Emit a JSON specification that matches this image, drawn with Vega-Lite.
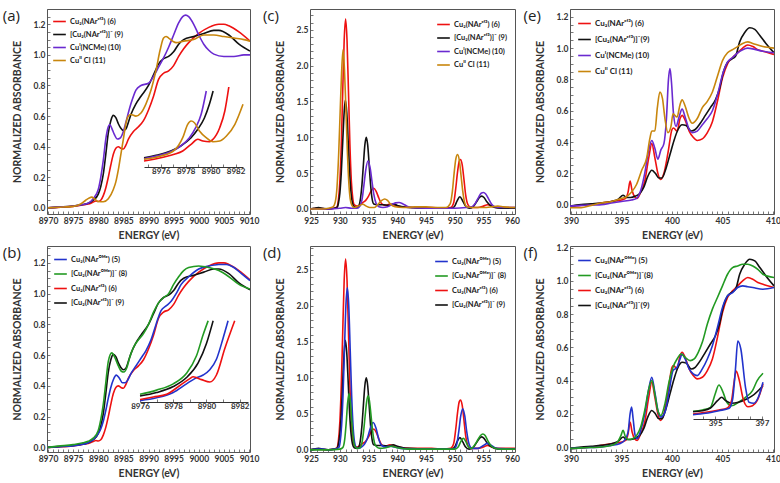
{
"$schema": "https://vega.github.io/schema/vega-lite/v6.json",
"padding": {"left": 2, "top": 4, "right": 0, "bottom": 0},
"background": "white",
"config": {
 "view": {"stroke": "#555", "strokeWidth": 1},
 "axis": {"labelFont": "Lato", "labelFontWeight": "bold", "labelFontSize": 8.5, "labelColor": "#333", "titleFont": "Lato", "titleFontWeight": "bold", "titleFontSize": 10.5, "titleColor": "#333", "tickColor": "#555", "tickSize": -3, "tickWidth": 0.8, "domain": false, "grid": false, "labelFlush": false, "labelOverlap": false, "labelPadding": 5},
 "axisX": {"titlePadding": 6},
 "axisY": {"titlePadding": 11},
 "legend": {"symbolType": "stroke", "symbolStrokeWidth": 2, "symbolSize": 160, "labelFont": "Lato", "labelFontWeight": "bold", "labelFontSize": 7.5, "labelColor": "#222", "rowPadding": 2.5, "padding": 0, "offset": 5, "labelOffset": 3},
 "text": {"align": "left", "baseline": "top", "font": "Open Sans", "fontSize": 15, "color": "#222"},
 "line": {"interpolate": "monotone", "strokeWidth": 1.6}
},
"datasets": {
"K": [
{"s":"6","x":8970,"y":0},{"s":"6","x":8972,"y":0.003},{"s":"6","x":8975,"y":0.01},{"s":"6","x":8977,"y":0.02},{"s":"6","x":8978,"y":0.025},{"s":"6","x":8979,"y":0.038},{"s":"6","x":8979.5,"y":0.045},{"s":"6","x":8980,"y":0.042},{"s":"6","x":8980.5,"y":0.05},{"s":"6","x":8981,"y":0.08},{"s":"6","x":8981.5,"y":0.13},{"s":"6","x":8982,"y":0.2},{"s":"6","x":8982.5,"y":0.28},{"s":"6","x":8983,"y":0.35},{"s":"6","x":8983.5,"y":0.39},{"s":"6","x":8984,"y":0.4},{"s":"6","x":8984.5,"y":0.39},{"s":"6","x":8985,"y":0.385},{"s":"6","x":8985.5,"y":0.41},{"s":"6","x":8986,"y":0.45},{"s":"6","x":8987,"y":0.5},{"s":"6","x":8988,"y":0.53},{"s":"6","x":8989,"y":0.57},{"s":"6","x":8990,"y":0.64},{"s":"6","x":8991,"y":0.73},{"s":"6","x":8992,"y":0.84},{"s":"6","x":8993,"y":0.88},{"s":"6","x":8994,"y":0.895},{"s":"6","x":8995,"y":0.93},{"s":"6","x":8996,"y":0.99},{"s":"6","x":8997,"y":1.04},{"s":"6","x":8998,"y":1.08},{"s":"6","x":9000,"y":1.14},{"s":"6","x":9002,"y":1.18},{"s":"6","x":9004,"y":1.2},{"s":"6","x":9005,"y":1.2},{"s":"6","x":9006,"y":1.19},{"s":"6","x":9008,"y":1.15},{"s":"6","x":9010.2,"y":1.09},
{"s":"9","x":8970,"y":0},{"s":"9","x":8972,"y":0.005},{"s":"9","x":8975,"y":0.012},{"s":"9","x":8977,"y":0.022},{"s":"9","x":8978,"y":0.03},{"s":"9","x":8979,"y":0.05},{"s":"9","x":8980,"y":0.09},{"s":"9","x":8980.5,"y":0.14},{"s":"9","x":8981,"y":0.22},{"s":"9","x":8981.5,"y":0.35},{"s":"9","x":8982,"y":0.49},{"s":"9","x":8982.5,"y":0.57},{"s":"9","x":8983,"y":0.605},{"s":"9","x":8983.5,"y":0.59},{"s":"9","x":8984,"y":0.55},{"s":"9","x":8984.5,"y":0.52},{"s":"9","x":8985,"y":0.505},{"s":"9","x":8985.5,"y":0.515},{"s":"9","x":8986,"y":0.56},{"s":"9","x":8986.5,"y":0.61},{"s":"9","x":8987.5,"y":0.68},{"s":"9","x":8988.5,"y":0.73},{"s":"9","x":8990,"y":0.8},{"s":"9","x":8991,"y":0.87},{"s":"9","x":8992,"y":0.94},{"s":"9","x":8993,"y":0.975},{"s":"9","x":8994,"y":0.99},{"s":"9","x":8995,"y":1.02},{"s":"9","x":8996,"y":1.07},{"s":"9","x":8997,"y":1.1},{"s":"9","x":8999,"y":1.12},{"s":"9","x":9001,"y":1.14},{"s":"9","x":9003,"y":1.16},{"s":"9","x":9004,"y":1.16},{"s":"9","x":9006,"y":1.13},{"s":"9","x":9008,"y":1.07},{"s":"9","x":9010.2,"y":1.025},
{"s":"10","x":8970,"y":0},{"s":"10","x":8972,"y":0.005},{"s":"10","x":8975,"y":0.012},{"s":"10","x":8977,"y":0.022},{"s":"10","x":8978,"y":0.03},{"s":"10","x":8979,"y":0.06},{"s":"10","x":8980,"y":0.12},{"s":"10","x":8980.5,"y":0.2},{"s":"10","x":8981,"y":0.31},{"s":"10","x":8981.5,"y":0.45},{"s":"10","x":8982,"y":0.53},{"s":"10","x":8982.3,"y":0.545},{"s":"10","x":8982.7,"y":0.52},{"s":"10","x":8983.2,"y":0.48},{"s":"10","x":8983.8,"y":0.45},{"s":"10","x":8984.3,"y":0.455},{"s":"10","x":8985,"y":0.5},{"s":"10","x":8985.5,"y":0.56},{"s":"10","x":8986.5,"y":0.68},{"s":"10","x":8987.5,"y":0.77},{"s":"10","x":8988.5,"y":0.8},{"s":"10","x":8990,"y":0.815},{"s":"10","x":8991,"y":0.86},{"s":"10","x":8992,"y":0.92},{"s":"10","x":8993,"y":0.98},{"s":"10","x":8994,"y":1.05},{"s":"10","x":8995,"y":1.13},{"s":"10","x":8996,"y":1.21},{"s":"10","x":8996.8,"y":1.25},{"s":"10","x":8997.4,"y":1.26},{"s":"10","x":8998,"y":1.25},{"s":"10","x":8999,"y":1.2},{"s":"10","x":9000,"y":1.13},{"s":"10","x":9001,"y":1.07},{"s":"10","x":9002,"y":1.03},{"s":"10","x":9003,"y":1.005},{"s":"10","x":9005,"y":0.99},{"s":"10","x":9007,"y":0.99},{"s":"10","x":9009,"y":1.0},{"s":"10","x":9010.2,"y":1.0},
{"s":"11","x":8970,"y":0},{"s":"11","x":8972,"y":0.004},{"s":"11","x":8975,"y":0.01},{"s":"11","x":8976.5,"y":0.025},{"s":"11","x":8977.5,"y":0.05},{"s":"11","x":8978.2,"y":0.065},{"s":"11","x":8978.7,"y":0.07},{"s":"11","x":8979.3,"y":0.058},{"s":"11","x":8980,"y":0.042},{"s":"11","x":8981,"y":0.04},{"s":"11","x":8982,"y":0.06},{"s":"11","x":8983,"y":0.12},{"s":"11","x":8983.5,"y":0.17},{"s":"11","x":8984,"y":0.25},{"s":"11","x":8984.5,"y":0.35},{"s":"11","x":8985,"y":0.45},{"s":"11","x":8985.5,"y":0.55},{"s":"11","x":8986,"y":0.6},{"s":"11","x":8986.5,"y":0.61},{"s":"11","x":8987.5,"y":0.6},{"s":"11","x":8988.5,"y":0.62},{"s":"11","x":8989.5,"y":0.68},{"s":"11","x":8990.5,"y":0.77},{"s":"11","x":8991.5,"y":0.9},{"s":"11","x":8992.3,"y":1.03},{"s":"11","x":8993,"y":1.11},{"s":"11","x":8993.5,"y":1.12},{"s":"11","x":8994,"y":1.11},{"s":"11","x":8994.8,"y":1.09},{"s":"11","x":8995.5,"y":1.08},{"s":"11","x":8997,"y":1.09},{"s":"11","x":8999,"y":1.1},{"s":"11","x":9001,"y":1.13},{"s":"11","x":9003,"y":1.13},{"s":"11","x":9005,"y":1.12},{"s":"11","x":9007,"y":1.11},{"s":"11","x":9009,"y":1.1},{"s":"11","x":9010.2,"y":1.09},
{"s":"5","x":8970,"y":0},{"s":"5","x":8972,"y":0.004},{"s":"5","x":8975,"y":0.01},{"s":"5","x":8977,"y":0.02},{"s":"5","x":8978,"y":0.03},{"s":"5","x":8979,"y":0.05},{"s":"5","x":8980,"y":0.09},{"s":"5","x":8980.5,"y":0.12},{"s":"5","x":8981,"y":0.17},{"s":"5","x":8981.5,"y":0.24},{"s":"5","x":8982,"y":0.32},{"s":"5","x":8982.5,"y":0.39},{"s":"5","x":8983,"y":0.44},{"s":"5","x":8983.6,"y":0.47},{"s":"5","x":8984.2,"y":0.45},{"s":"5","x":8984.8,"y":0.42},{"s":"5","x":8985.3,"y":0.42},{"s":"5","x":8985.8,"y":0.435},{"s":"5","x":8986.5,"y":0.48},{"s":"5","x":8987.5,"y":0.53},{"s":"5","x":8988.5,"y":0.58},{"s":"5","x":8989.5,"y":0.63},{"s":"5","x":8990.5,"y":0.7},{"s":"5","x":8991.5,"y":0.8},{"s":"5","x":8992.5,"y":0.89},{"s":"5","x":8993.5,"y":0.92},{"s":"5","x":8994.5,"y":0.95},{"s":"5","x":8995.5,"y":1.0},{"s":"5","x":8996.5,"y":1.06},{"s":"5","x":8998,"y":1.11},{"s":"5","x":9000,"y":1.16},{"s":"5","x":9002,"y":1.18},{"s":"5","x":9004,"y":1.19},{"s":"5","x":9005.5,"y":1.19},{"s":"5","x":9007,"y":1.17},{"s":"5","x":9008.5,"y":1.13},{"s":"5","x":9010.2,"y":1.085},
{"s":"8","x":8970,"y":0},{"s":"8","x":8972,"y":0.008},{"s":"8","x":8975,"y":0.018},{"s":"8","x":8977,"y":0.03},{"s":"8","x":8978,"y":0.04},{"s":"8","x":8979,"y":0.06},{"s":"8","x":8980,"y":0.11},{"s":"8","x":8980.5,"y":0.18},{"s":"8","x":8981,"y":0.28},{"s":"8","x":8981.5,"y":0.42},{"s":"8","x":8982,"y":0.56},{"s":"8","x":8982.7,"y":0.615},{"s":"8","x":8983.3,"y":0.585},{"s":"8","x":8984,"y":0.53},{"s":"8","x":8984.6,"y":0.495},{"s":"8","x":8985.1,"y":0.49},{"s":"8","x":8985.7,"y":0.52},{"s":"8","x":8986.3,"y":0.59},{"s":"8","x":8987,"y":0.65},{"s":"8","x":8988,"y":0.7},{"s":"8","x":8989,"y":0.74},{"s":"8","x":8990,"y":0.8},{"s":"8","x":8991,"y":0.88},{"s":"8","x":8992,"y":0.94},{"s":"8","x":8993,"y":0.975},{"s":"8","x":8994,"y":1.0},{"s":"8","x":8995,"y":1.06},{"s":"8","x":8996,"y":1.11},{"s":"8","x":8997,"y":1.15},{"s":"8","x":8998,"y":1.17},{"s":"8","x":9000,"y":1.18},{"s":"8","x":9002,"y":1.17},{"s":"8","x":9004,"y":1.15},{"s":"8","x":9006,"y":1.11},{"s":"8","x":9008,"y":1.06},{"s":"8","x":9010.2,"y":1.03}
],
"Ka": [
{"s":"6","x":8974.65,"y":0.06},{"s":"6","x":8975.46,"y":0.077},{"s":"6","x":8976.27,"y":0.1},{"s":"6","x":8977.08,"y":0.127},{"s":"6","x":8977.76,"y":0.16},{"s":"6","x":8978.43,"y":0.227},{"s":"6","x":8978.97,"y":0.277},{"s":"6","x":8979.38,"y":0.26},{"s":"6","x":8979.92,"y":0.253},{"s":"6","x":8980.19,"y":0.277},{"s":"6","x":8980.73,"y":0.393},{"s":"6","x":8981.14,"y":0.56},{"s":"6","x":8981.46,"y":0.8},
{"s":"9","x":8974.65,"y":0.093},{"s":"9","x":8975.73,"y":0.12},{"s":"9","x":8976.8,"y":0.16},{"s":"9","x":8977.6,"y":0.21},{"s":"9","x":8978.43,"y":0.293},{"s":"9","x":8978.97,"y":0.377},{"s":"9","x":8979.5,"y":0.49},{"s":"9","x":8979.9,"y":0.627},{"s":"9","x":8980.2,"y":0.76},
{"s":"10","x":8974.65,"y":0.083},{"s":"10","x":8975.73,"y":0.113},{"s":"10","x":8976.8,"y":0.153},{"s":"10","x":8977.6,"y":0.21},{"s":"10","x":8978.3,"y":0.293},{"s":"10","x":8978.8,"y":0.393},{"s":"10","x":8979.24,"y":0.527},{"s":"10","x":8979.65,"y":0.76},
{"s":"11","x":8974.65,"y":0.077},{"s":"11","x":8976,"y":0.11},{"s":"11","x":8977.08,"y":0.167},{"s":"11","x":8977.76,"y":0.293},{"s":"11","x":8978.16,"y":0.427},{"s":"11","x":8978.43,"y":0.46},{"s":"11","x":8978.7,"y":0.443},{"s":"11","x":8979.1,"y":0.36},{"s":"11","x":8979.65,"y":0.293},{"s":"11","x":8980.19,"y":0.253},{"s":"11","x":8980.73,"y":0.26},{"s":"11","x":8981.27,"y":0.31},{"s":"11","x":8981.95,"y":0.427},{"s":"11","x":8982.6,"y":0.627}
],
"Kb": [
{"s":"5","x":8976,"y":0.013},{"s":"5","x":8977,"y":0.04},{"s":"5","x":8978,"y":0.09},{"s":"5","x":8978.8,"y":0.173},{"s":"5","x":8979.3,"y":0.223},{"s":"5","x":8979.8,"y":0.257},{"s":"5","x":8980.2,"y":0.307},{"s":"5","x":8980.6,"y":0.407},{"s":"5","x":8981,"y":0.607},{"s":"5","x":8981.3,"y":0.773},
{"s":"8","x":8976,"y":0.073},{"s":"8","x":8977,"y":0.113},{"s":"8","x":8978,"y":0.173},{"s":"8","x":8978.8,"y":0.273},{"s":"8","x":8979.4,"y":0.44},{"s":"8","x":8979.8,"y":0.64},{"s":"8","x":8980.1,"y":0.773},
{"s":"6","x":8976,"y":0.023},{"s":"6","x":8976.8,"y":0.047},{"s":"6","x":8977.6,"y":0.073},{"s":"6","x":8978.4,"y":0.157},{"s":"6","x":8979,"y":0.223},{"s":"6","x":8979.2,"y":0.24},{"s":"6","x":8979.7,"y":0.213},{"s":"6","x":8980.2,"y":0.19},{"s":"6","x":8980.6,"y":0.257},{"s":"6","x":8981.1,"y":0.507},{"s":"6","x":8981.7,"y":0.773},
{"s":"9","x":8976,"y":0.057},{"s":"9","x":8977,"y":0.09},{"s":"9","x":8978,"y":0.147},{"s":"9","x":8978.8,"y":0.233},{"s":"9","x":8979.5,"y":0.373},{"s":"9","x":8980,"y":0.557},{"s":"9","x":8980.4,"y":0.773}
],
"L": [
{"s":"6","x":924.8,"y":0},{"s":"6","x":926,"y":0.01},{"s":"6","x":927,"y":0.005},{"s":"6","x":928,"y":0},{"s":"6","x":929,"y":0.01},{"s":"6","x":929.5,"y":0.03},{"s":"6","x":929.75,"y":0.13},{"s":"6","x":930,"y":0.39},{"s":"6","x":930.25,"y":0.9},{"s":"6","x":930.5,"y":1.64},{"s":"6","x":930.75,"y":2.35},{"s":"6","x":931,"y":2.65},{"s":"6","x":931.25,"y":2.35},{"s":"6","x":931.5,"y":1.64},{"s":"6","x":931.75,"y":0.9},{"s":"6","x":932,"y":0.39},{"s":"6","x":932.25,"y":0.15},{"s":"6","x":932.5,"y":0.06},{"s":"6","x":933,"y":0.04},{"s":"6","x":933.5,"y":0.06},{"s":"6","x":934,"y":0.09},{"s":"6","x":934.5,"y":0.12},{"s":"6","x":935,"y":0.18},{"s":"6","x":935.5,"y":0.26},{"s":"6","x":935.9,"y":0.29},{"s":"6","x":936.3,"y":0.25},{"s":"6","x":936.8,"y":0.15},{"s":"6","x":937.3,"y":0.07},{"s":"6","x":938,"y":0.05},{"s":"6","x":938.7,"y":0.07},{"s":"6","x":939.3,"y":0.06},{"s":"6","x":940,"y":0.04},{"s":"6","x":941,"y":0.03},{"s":"6","x":943,"y":0.02},{"s":"6","x":946,"y":0.02},{"s":"6","x":948,"y":0.01},{"s":"6","x":949.3,"y":0.02},{"s":"6","x":949.8,"y":0.08},{"s":"6","x":950.2,"y":0.3},{"s":"6","x":950.5,"y":0.52},{"s":"6","x":950.8,"y":0.67},{"s":"6","x":951,"y":0.69},{"s":"6","x":951.3,"y":0.62},{"s":"6","x":951.6,"y":0.42},{"s":"6","x":951.9,"y":0.2},{"s":"6","x":952.3,"y":0.06},{"s":"6","x":952.8,"y":0.02},{"s":"6","x":954,"y":0.02},{"s":"6","x":955,"y":0.04},{"s":"6","x":955.7,"y":0.06},{"s":"6","x":956.5,"y":0.04},{"s":"6","x":957.5,"y":0.02},{"s":"6","x":960.5,"y":0.02},
{"s":"9","x":924.8,"y":0},{"s":"9","x":925.5,"y":0.01},{"s":"9","x":926.3,"y":0.02},{"s":"9","x":927,"y":0.01},{"s":"9","x":928,"y":0},{"s":"9","x":929,"y":0.01},{"s":"9","x":929.5,"y":0.02},{"s":"9","x":929.75,"y":0.08},{"s":"9","x":930,"y":0.22},{"s":"9","x":930.25,"y":0.51},{"s":"9","x":930.5,"y":0.94},{"s":"9","x":930.75,"y":1.35},{"s":"9","x":930.95,"y":1.52},{"s":"9","x":931.2,"y":1.35},{"s":"9","x":931.45,"y":0.94},{"s":"9","x":931.7,"y":0.51},{"s":"9","x":931.95,"y":0.22},{"s":"9","x":932.2,"y":0.08},{"s":"9","x":932.5,"y":0.03},{"s":"9","x":933,"y":0.02},{"s":"9","x":933.3,"y":0.04},{"s":"9","x":933.6,"y":0.15},{"s":"9","x":933.85,"y":0.34},{"s":"9","x":934.1,"y":0.62},{"s":"9","x":934.35,"y":0.89},{"s":"9","x":934.6,"y":1.0},{"s":"9","x":934.85,"y":0.89},{"s":"9","x":935.1,"y":0.62},{"s":"9","x":935.35,"y":0.34},{"s":"9","x":935.6,"y":0.15},{"s":"9","x":935.9,"y":0.07},{"s":"9","x":936.5,"y":0.06},{"s":"9","x":937.5,"y":0.06},{"s":"9","x":938.5,"y":0.05},{"s":"9","x":939.3,"y":0.07},{"s":"9","x":940,"y":0.05},{"s":"9","x":941,"y":0.03},{"s":"9","x":942,"y":0.02},{"s":"9","x":945,"y":0.01},{"s":"9","x":948,"y":0.01},{"s":"9","x":949.5,"y":0.01},{"s":"9","x":950,"y":0.04},{"s":"9","x":950.4,"y":0.11},{"s":"9","x":950.9,"y":0.17},{"s":"9","x":951.4,"y":0.11},{"s":"9","x":951.9,"y":0.04},{"s":"9","x":952.5,"y":0.01},{"s":"9","x":953.2,"y":0.03},{"s":"9","x":953.8,"y":0.1},{"s":"9","x":954.3,"y":0.16},{"s":"9","x":954.7,"y":0.18},{"s":"9","x":955.1,"y":0.16},{"s":"9","x":955.6,"y":0.1},{"s":"9","x":956.2,"y":0.05},{"s":"9","x":957,"y":0.02},{"s":"9","x":958,"y":0.01},{"s":"9","x":960.5,"y":0.01},
{"s":"10","x":924.8,"y":0},{"s":"10","x":928,"y":0},{"s":"10","x":930,"y":0.01},{"s":"10","x":931,"y":0.02},{"s":"10","x":932,"y":0.01},{"s":"10","x":933,"y":0.01},{"s":"10","x":933.5,"y":0.04},{"s":"10","x":933.9,"y":0.15},{"s":"10","x":934.2,"y":0.34},{"s":"10","x":934.5,"y":0.54},{"s":"10","x":934.9,"y":0.67},{"s":"10","x":935.3,"y":0.56},{"s":"10","x":935.6,"y":0.38},{"s":"10","x":935.9,"y":0.21},{"s":"10","x":936.3,"y":0.08},{"s":"10","x":936.8,"y":0.03},{"s":"10","x":937.5,"y":0.02},{"s":"10","x":938.3,"y":0.03},{"s":"10","x":939,"y":0.06},{"s":"10","x":939.7,"y":0.085},{"s":"10","x":940.3,"y":0.09},{"s":"10","x":941,"y":0.07},{"s":"10","x":941.7,"y":0.04},{"s":"10","x":942.5,"y":0.02},{"s":"10","x":945,"y":0.01},{"s":"10","x":950,"y":0.01},{"s":"10","x":952,"y":0.02},{"s":"10","x":953,"y":0.03},{"s":"10","x":953.6,"y":0.08},{"s":"10","x":954.2,"y":0.17},{"s":"10","x":954.6,"y":0.22},{"s":"10","x":955,"y":0.23},{"s":"10","x":955.4,"y":0.21},{"s":"10","x":955.9,"y":0.14},{"s":"10","x":956.4,"y":0.07},{"s":"10","x":957,"y":0.03},{"s":"10","x":958,"y":0.02},{"s":"10","x":960.5,"y":0.02},
{"s":"11","x":924.8,"y":0},{"s":"11","x":927,"y":0},{"s":"11","x":928,"y":0.01},{"s":"11","x":928.8,"y":0.03},{"s":"11","x":929.2,"y":0.1},{"s":"11","x":929.5,"y":0.3},{"s":"11","x":929.8,"y":0.78},{"s":"11","x":930.05,"y":1.35},{"s":"11","x":930.3,"y":1.9},{"s":"11","x":930.55,"y":2.22},{"s":"11","x":930.8,"y":1.95},{"s":"11","x":931.05,"y":1.4},{"s":"11","x":931.3,"y":0.82},{"s":"11","x":931.55,"y":0.38},{"s":"11","x":931.8,"y":0.14},{"s":"11","x":932.1,"y":0.05},{"s":"11","x":932.5,"y":0.02},{"s":"11","x":933.2,"y":0.04},{"s":"11","x":934,"y":0.065},{"s":"11","x":934.6,"y":0.04},{"s":"11","x":935.2,"y":0.02},{"s":"11","x":936,"y":0.02},{"s":"11","x":936.7,"y":0.07},{"s":"11","x":937.3,"y":0.12},{"s":"11","x":937.8,"y":0.14},{"s":"11","x":938.3,"y":0.12},{"s":"11","x":938.9,"y":0.06},{"s":"11","x":939.6,"y":0.03},{"s":"11","x":941,"y":0.02},{"s":"11","x":943,"y":0.03},{"s":"11","x":945,"y":0.03},{"s":"11","x":947,"y":0.02},{"s":"11","x":948.5,"y":0.02},{"s":"11","x":949.2,"y":0.07},{"s":"11","x":949.6,"y":0.25},{"s":"11","x":949.9,"y":0.5},{"s":"11","x":950.2,"y":0.7},{"s":"11","x":950.5,"y":0.76},{"s":"11","x":950.8,"y":0.68},{"s":"11","x":951.1,"y":0.47},{"s":"11","x":951.4,"y":0.25},{"s":"11","x":951.7,"y":0.1},{"s":"11","x":952.1,"y":0.03},{"s":"11","x":953,"y":0.02},{"s":"11","x":955,"y":0.02},{"s":"11","x":956.5,"y":0.03},{"s":"11","x":957.5,"y":0.04},{"s":"11","x":958.5,"y":0.03},{"s":"11","x":960.5,"y":0.02},
{"s":"5","x":924.8,"y":0},{"s":"5","x":926,"y":0.01},{"s":"5","x":927,"y":0.01},{"s":"5","x":928,"y":0},{"s":"5","x":929,"y":0.01},{"s":"5","x":929.8,"y":0.03},{"s":"5","x":930.05,"y":0.11},{"s":"5","x":930.3,"y":0.33},{"s":"5","x":930.55,"y":0.76},{"s":"5","x":930.8,"y":1.39},{"s":"5","x":931.05,"y":2.0},{"s":"5","x":931.3,"y":2.25},{"s":"5","x":931.55,"y":2.0},{"s":"5","x":931.8,"y":1.39},{"s":"5","x":932.05,"y":0.76},{"s":"5","x":932.3,"y":0.33},{"s":"5","x":932.55,"y":0.11},{"s":"5","x":932.8,"y":0.04},{"s":"5","x":933.3,"y":0.02},{"s":"5","x":933.8,"y":0.04},{"s":"5","x":934.3,"y":0.08},{"s":"5","x":934.8,"y":0.16},{"s":"5","x":935.3,"y":0.3},{"s":"5","x":935.8,"y":0.38},{"s":"5","x":936.3,"y":0.3},{"s":"5","x":936.8,"y":0.14},{"s":"5","x":937.3,"y":0.06},{"s":"5","x":938,"y":0.04},{"s":"5","x":938.8,"y":0.05},{"s":"5","x":939.5,"y":0.04},{"s":"5","x":940.5,"y":0.02},{"s":"5","x":943,"y":0.01},{"s":"5","x":947,"y":0.01},{"s":"5","x":949.8,"y":0.01},{"s":"5","x":950.3,"y":0.06},{"s":"5","x":950.7,"y":0.25},{"s":"5","x":951.05,"y":0.47},{"s":"5","x":951.4,"y":0.57},{"s":"5","x":951.75,"y":0.47},{"s":"5","x":952.1,"y":0.25},{"s":"5","x":952.5,"y":0.08},{"s":"5","x":953,"y":0.02},{"s":"5","x":954,"y":0.02},{"s":"5","x":955,"y":0.06},{"s":"5","x":955.7,"y":0.09},{"s":"5","x":956.4,"y":0.06},{"s":"5","x":957.3,"y":0.02},{"s":"5","x":960.5,"y":0.01},
{"s":"8","x":924.8,"y":0},{"s":"8","x":928,"y":0},{"s":"8","x":930,"y":0.01},{"s":"8","x":930.5,"y":0.03},{"s":"8","x":930.85,"y":0.15},{"s":"8","x":931.1,"y":0.37},{"s":"8","x":931.35,"y":0.65},{"s":"8","x":931.6,"y":0.78},{"s":"8","x":931.85,"y":0.65},{"s":"8","x":932.1,"y":0.37},{"s":"8","x":932.35,"y":0.15},{"s":"8","x":932.6,"y":0.05},{"s":"8","x":933,"y":0.02},{"s":"8","x":933.5,"y":0.03},{"s":"8","x":933.9,"y":0.12},{"s":"8","x":934.15,"y":0.27},{"s":"8","x":934.4,"y":0.47},{"s":"8","x":934.65,"y":0.66},{"s":"8","x":934.9,"y":0.75},{"s":"8","x":935.15,"y":0.68},{"s":"8","x":935.4,"y":0.5},{"s":"8","x":935.65,"y":0.3},{"s":"8","x":935.9,"y":0.15},{"s":"8","x":936.3,"y":0.05},{"s":"8","x":937,"y":0.02},{"s":"8","x":938,"y":0.03},{"s":"8","x":939,"y":0.05},{"s":"8","x":940,"y":0.03},{"s":"8","x":942,"y":0.01},{"s":"8","x":950,"y":0.01},{"s":"8","x":950.6,"y":0.04},{"s":"8","x":951.1,"y":0.12},{"s":"8","x":951.5,"y":0.16},{"s":"8","x":951.9,"y":0.12},{"s":"8","x":952.4,"y":0.04},{"s":"8","x":952.9,"y":0.02},{"s":"8","x":953.5,"y":0.07},{"s":"8","x":954.1,"y":0.15},{"s":"8","x":954.5,"y":0.2},{"s":"8","x":954.9,"y":0.22},{"s":"8","x":955.3,"y":0.2},{"s":"8","x":955.8,"y":0.12},{"s":"8","x":956.4,"y":0.05},{"s":"8","x":957.2,"y":0.02},{"s":"8","x":958,"y":0.01},{"s":"8","x":960.5,"y":0.01}
],
"N": [
{"s":"6","x":389.9,"y":-0.01},{"s":"6","x":391,"y":-0.005},{"s":"6","x":392,"y":0},{"s":"6","x":393,"y":0.01},{"s":"6","x":394,"y":0.02},{"s":"6","x":395,"y":0.03},{"s":"6","x":395.4,"y":0.04},{"s":"6","x":395.65,"y":0.08},{"s":"6","x":395.85,"y":0.15},{"s":"6","x":396.05,"y":0.09},{"s":"6","x":396.3,"y":0.05},{"s":"6","x":396.55,"y":0.04},{"s":"6","x":396.9,"y":0.08},{"s":"6","x":397.3,"y":0.15},{"s":"6","x":397.7,"y":0.3},{"s":"6","x":398,"y":0.39},{"s":"6","x":398.3,"y":0.3},{"s":"6","x":398.6,"y":0.2},{"s":"6","x":398.85,"y":0.16},{"s":"6","x":399.2,"y":0.2},{"s":"6","x":399.6,"y":0.33},{"s":"6","x":400,"y":0.48},{"s":"6","x":400.15,"y":0.49},{"s":"6","x":400.5,"y":0.47},{"s":"6","x":400.8,"y":0.55},{"s":"6","x":401,"y":0.57},{"s":"6","x":401.3,"y":0.54},{"s":"6","x":401.7,"y":0.47},{"s":"6","x":402.1,"y":0.43},{"s":"6","x":402.5,"y":0.41},{"s":"6","x":403,"y":0.42},{"s":"6","x":403.5,"y":0.46},{"s":"6","x":404,"y":0.53},{"s":"6","x":404.5,"y":0.66},{"s":"6","x":405,"y":0.81},{"s":"6","x":405.5,"y":0.9},{"s":"6","x":406,"y":0.94},{"s":"6","x":406.5,"y":0.97},{"s":"6","x":407,"y":1.0},{"s":"6","x":407.5,"y":1.02},{"s":"6","x":408,"y":1.01},{"s":"6","x":408.5,"y":0.99},{"s":"6","x":409,"y":0.98},{"s":"6","x":410.1,"y":0.96},
{"s":"9","x":389.9,"y":-0.01},{"s":"9","x":391,"y":0},{"s":"9","x":392,"y":0.005},{"s":"9","x":393,"y":0.01},{"s":"9","x":394,"y":0.02},{"s":"9","x":394.7,"y":0.035},{"s":"9","x":395.15,"y":0.06},{"s":"9","x":395.5,"y":0.045},{"s":"9","x":395.9,"y":0.045},{"s":"9","x":396.4,"y":0.055},{"s":"9","x":396.8,"y":0.07},{"s":"9","x":397.2,"y":0.11},{"s":"9","x":397.6,"y":0.18},{"s":"9","x":398,"y":0.22},{"s":"9","x":398.35,"y":0.2},{"s":"9","x":398.7,"y":0.17},{"s":"9","x":399,"y":0.17},{"s":"9","x":399.4,"y":0.23},{"s":"9","x":399.8,"y":0.32},{"s":"9","x":400.2,"y":0.41},{"s":"9","x":400.6,"y":0.48},{"s":"9","x":401,"y":0.51},{"s":"9","x":401.4,"y":0.505},{"s":"9","x":401.9,"y":0.47},{"s":"9","x":402.3,"y":0.48},{"s":"9","x":402.8,"y":0.52},{"s":"9","x":403.3,"y":0.57},{"s":"9","x":403.8,"y":0.62},{"s":"9","x":404.3,"y":0.67},{"s":"9","x":404.7,"y":0.74},{"s":"9","x":405.1,"y":0.85},{"s":"9","x":405.5,"y":0.91},{"s":"9","x":405.9,"y":0.93},{"s":"9","x":406.3,"y":0.95},{"s":"9","x":406.7,"y":1.04},{"s":"9","x":407.2,"y":1.1},{"s":"9","x":407.7,"y":1.13},{"s":"9","x":408.2,"y":1.12},{"s":"9","x":408.7,"y":1.08},{"s":"9","x":409.3,"y":1.03},{"s":"9","x":410.1,"y":0.97},
{"s":"10","x":389.9,"y":-0.01},{"s":"10","x":391,"y":-0.005},{"s":"10","x":393,"y":0},{"s":"10","x":394,"y":0.01},{"s":"10","x":395,"y":0.02},{"s":"10","x":396,"y":0.03},{"s":"10","x":396.5,"y":0.04},{"s":"10","x":396.9,"y":0.09},{"s":"10","x":397.3,"y":0.2},{"s":"10","x":397.7,"y":0.35},{"s":"10","x":398,"y":0.41},{"s":"10","x":398.3,"y":0.36},{"s":"10","x":398.6,"y":0.29},{"s":"10","x":398.9,"y":0.35},{"s":"10","x":399.2,"y":0.39},{"s":"10","x":399.45,"y":0.55},{"s":"10","x":399.65,"y":0.8},{"s":"10","x":399.8,"y":0.87},{"s":"10","x":399.95,"y":0.78},{"s":"10","x":400.15,"y":0.58},{"s":"10","x":400.4,"y":0.5},{"s":"10","x":400.7,"y":0.56},{"s":"10","x":401,"y":0.61},{"s":"10","x":401.3,"y":0.56},{"s":"10","x":401.7,"y":0.48},{"s":"10","x":402,"y":0.46},{"s":"10","x":402.5,"y":0.47},{"s":"10","x":403,"y":0.51},{"s":"10","x":403.5,"y":0.55},{"s":"10","x":404,"y":0.6},{"s":"10","x":404.5,"y":0.7},{"s":"10","x":405,"y":0.83},{"s":"10","x":405.5,"y":0.91},{"s":"10","x":406,"y":0.94},{"s":"10","x":406.5,"y":0.97},{"s":"10","x":407,"y":0.99},{"s":"10","x":407.5,"y":1.0},{"s":"10","x":408,"y":0.995},{"s":"10","x":409,"y":0.98},{"s":"10","x":410.1,"y":0.97},
{"s":"11","x":389.9,"y":-0.02},{"s":"11","x":391,"y":-0.02},{"s":"11","x":392,"y":-0.005},{"s":"11","x":393,"y":0.01},{"s":"11","x":394,"y":0.02},{"s":"11","x":395,"y":0.04},{"s":"11","x":395.5,"y":0.05},{"s":"11","x":396,"y":0.08},{"s":"11","x":396.5,"y":0.13},{"s":"11","x":397,"y":0.22},{"s":"11","x":397.5,"y":0.3},{"s":"11","x":397.8,"y":0.42},{"s":"11","x":398,"y":0.47},{"s":"11","x":398.3,"y":0.47},{"s":"11","x":398.55,"y":0.62},{"s":"11","x":398.8,"y":0.72},{"s":"11","x":399.05,"y":0.68},{"s":"11","x":399.3,"y":0.55},{"s":"11","x":399.6,"y":0.46},{"s":"11","x":399.9,"y":0.5},{"s":"11","x":400.1,"y":0.58},{"s":"11","x":400.5,"y":0.56},{"s":"11","x":400.8,"y":0.64},{"s":"11","x":401,"y":0.67},{"s":"11","x":401.3,"y":0.63},{"s":"11","x":401.7,"y":0.55},{"s":"11","x":402,"y":0.52},{"s":"11","x":402.5,"y":0.55},{"s":"11","x":403,"y":0.62},{"s":"11","x":403.5,"y":0.66},{"s":"11","x":404,"y":0.72},{"s":"11","x":404.5,"y":0.82},{"s":"11","x":405,"y":0.92},{"s":"11","x":405.5,"y":0.97},{"s":"11","x":406,"y":0.99},{"s":"11","x":406.5,"y":1.01},{"s":"11","x":407,"y":1.03},{"s":"11","x":407.5,"y":1.04},{"s":"11","x":408,"y":1.03},{"s":"11","x":409,"y":1.01},{"s":"11","x":410.1,"y":1.0},
{"s":"5","x":389.9,"y":-0.01},{"s":"5","x":391,"y":-0.005},{"s":"5","x":393,"y":0},{"s":"5","x":394,"y":0.01},{"s":"5","x":394.8,"y":0.02},{"s":"5","x":395.3,"y":0.04},{"s":"5","x":395.65,"y":0.09},{"s":"5","x":395.85,"y":0.2},{"s":"5","x":396,"y":0.24},{"s":"5","x":396.15,"y":0.17},{"s":"5","x":396.35,"y":0.07},{"s":"5","x":396.55,"y":0.05},{"s":"5","x":396.9,"y":0.1},{"s":"5","x":397.3,"y":0.2},{"s":"5","x":397.7,"y":0.35},{"s":"5","x":398,"y":0.42},{"s":"5","x":398.3,"y":0.33},{"s":"5","x":398.6,"y":0.22},{"s":"5","x":398.9,"y":0.18},{"s":"5","x":399.3,"y":0.21},{"s":"5","x":399.7,"y":0.33},{"s":"5","x":400.1,"y":0.46},{"s":"5","x":400.5,"y":0.48},{"s":"5","x":400.8,"y":0.53},{"s":"5","x":401,"y":0.56},{"s":"5","x":401.3,"y":0.53},{"s":"5","x":401.7,"y":0.47},{"s":"5","x":402.1,"y":0.44},{"s":"5","x":402.5,"y":0.43},{"s":"5","x":403,"y":0.47},{"s":"5","x":403.5,"y":0.53},{"s":"5","x":404,"y":0.61},{"s":"5","x":404.5,"y":0.72},{"s":"5","x":405,"y":0.84},{"s":"5","x":405.5,"y":0.91},{"s":"5","x":406,"y":0.93},{"s":"5","x":406.5,"y":0.96},{"s":"5","x":407,"y":0.97},{"s":"5","x":407.5,"y":0.965},{"s":"5","x":408,"y":0.96},{"s":"5","x":409,"y":0.95},{"s":"5","x":410.1,"y":0.96},
{"s":"8","x":389.9,"y":-0.01},{"s":"8","x":391,"y":-0.005},{"s":"8","x":393,"y":0},{"s":"8","x":394,"y":0.01},{"s":"8","x":394.6,"y":0.03},{"s":"8","x":394.95,"y":0.07},{"s":"8","x":395.15,"y":0.1},{"s":"8","x":395.4,"y":0.06},{"s":"8","x":395.7,"y":0.045},{"s":"8","x":396.1,"y":0.05},{"s":"8","x":396.5,"y":0.07},{"s":"8","x":396.9,"y":0.12},{"s":"8","x":397.3,"y":0.22},{"s":"8","x":397.7,"y":0.35},{"s":"8","x":398,"y":0.4},{"s":"8","x":398.3,"y":0.32},{"s":"8","x":398.6,"y":0.22},{"s":"8","x":398.9,"y":0.19},{"s":"8","x":399.3,"y":0.26},{"s":"8","x":399.7,"y":0.39},{"s":"8","x":400.1,"y":0.48},{"s":"8","x":400.5,"y":0.53},{"s":"8","x":400.9,"y":0.56},{"s":"8","x":401.3,"y":0.54},{"s":"8","x":401.8,"y":0.52},{"s":"8","x":402.2,"y":0.53},{"s":"8","x":402.6,"y":0.57},{"s":"8","x":403,"y":0.63},{"s":"8","x":403.5,"y":0.74},{"s":"8","x":404,"y":0.83},{"s":"8","x":404.5,"y":0.9},{"s":"8","x":405,"y":0.97},{"s":"8","x":405.5,"y":1.04},{"s":"8","x":406,"y":1.08},{"s":"8","x":406.5,"y":1.09},{"s":"8","x":407,"y":1.1},{"s":"8","x":407.5,"y":1.1},{"s":"8","x":408,"y":1.09},{"s":"8","x":408.5,"y":1.07},{"s":"8","x":409,"y":1.04},{"s":"8","x":410.1,"y":1.02}
],
"Nf": [
{"s":"8","x":394.05,"y":0.077},{"s":"8","x":394.45,"y":0.09},{"s":"8","x":394.8,"y":0.117},{"s":"8","x":395,"y":0.25},{"s":"8","x":395.16,"y":0.34},{"s":"8","x":395.34,"y":0.267},{"s":"8","x":395.5,"y":0.167},{"s":"8","x":395.7,"y":0.133},{"s":"8","x":396,"y":0.167},{"s":"8","x":396.3,"y":0.217},{"s":"8","x":396.6,"y":0.283},{"s":"8","x":396.8,"y":0.383},{"s":"8","x":397.05,"y":0.457},
{"s":"9","x":394.05,"y":0.073},{"s":"9","x":394.45,"y":0.083},{"s":"9","x":394.8,"y":0.11},{"s":"9","x":395.1,"y":0.183},{"s":"9","x":395.28,"y":0.217},{"s":"9","x":395.45,"y":0.183},{"s":"9","x":395.7,"y":0.157},{"s":"9","x":396,"y":0.167},{"s":"9","x":396.35,"y":0.2},{"s":"9","x":396.6,"y":0.233},{"s":"9","x":397.05,"y":0.333},
{"s":"6","x":394.05,"y":0.05},{"s":"6","x":394.6,"y":0.067},{"s":"6","x":395.16,"y":0.09},{"s":"6","x":395.5,"y":0.107},{"s":"6","x":395.7,"y":0.183},{"s":"6","x":395.8,"y":0.35},{"s":"6","x":395.9,"y":0.48},{"s":"6","x":396.02,"y":0.4},{"s":"6","x":396.2,"y":0.2},{"s":"6","x":396.4,"y":0.123},{"s":"6","x":396.6,"y":0.133},{"s":"6","x":396.8,"y":0.183},{"s":"6","x":397.05,"y":0.35},
{"s":"5","x":394.05,"y":0.043},{"s":"5","x":394.6,"y":0.057},{"s":"5","x":395.16,"y":0.083},{"s":"5","x":395.6,"y":0.107},{"s":"5","x":395.75,"y":0.2},{"s":"5","x":395.87,"y":0.5},{"s":"5","x":395.97,"y":0.78},{"s":"5","x":396.1,"y":0.7},{"s":"5","x":396.3,"y":0.317},{"s":"5","x":396.45,"y":0.167},{"s":"5","x":396.65,"y":0.157},{"s":"5","x":396.85,"y":0.217},{"s":"5","x":397.05,"y":0.367}
]
},
"spacing": 1,
"resolve": {"scale": {"color": "independent"}},
"vconcat": [
{"hconcat": [
 {"width": 203, "height": 205,
  "layer": [
   {"layer": [
    {"data": {"name": "K"}, "transform": [{"filter": {"field": "s", "oneOf": ["6","9","10","11"]}}],
     "mark": {"type": "line", "clip": true},
     "encoding": {
      "x": {"field": "x", "type": "quantitative", "scale": {"domain": [8969.8, 9010.2], "nice": false, "zero": false}, "axis": {"title": "ENERGY (eV)", "format": "d", "values": [8970,8971,8972,8973,8974,8975,8976,8977,8978,8979,8980,8981,8982,8983,8984,8985,8986,8987,8988,8989,8990,8991,8992,8993,8994,8995,8996,8997,8998,8999,9000,9001,9002,9003,9004,9005,9006,9007,9008,9009,9010], "labelExpr": "datum.value % 5 == 0 ? datum.label : ''"}},
      "y": {"field": "y", "type": "quantitative", "scale": {"domain": [-0.04, 1.3], "nice": false, "zero": false}, "axis": {"title": "NORMALIZED ABSORBANCE", "values": [0,0.05,0.1,0.15,0.2,0.25,0.3,0.35,0.4,0.45,0.5,0.55,0.6,0.65,0.7,0.75,0.8,0.85,0.9,0.95,1,1.05,1.1,1.15,1.2,1.25,1.3], "labelExpr": "round(datum.value*100) % 20 == 0 ? format(datum.value, '.1f') : ''"}},
      "color": {"field": "s", "type": "nominal", "scale": {"domain": ["6","9","10","11"], "range": ["#ee1111","#111111","#6a2ad0","#c8860d"]}, "legend": {"title": null, "orient": "top-left", "rowPadding": 2, "labelExpr": "datum.label == '6' ? 'Cu₂(NArᶜᶠ³) (6)' : datum.label == '9' ? '[Cu₂(NArᶜᶠ³)]⁻ (9)' : datum.label == '10' ? 'Cuᴵ(NCMe) (10)' : 'Cuᴵᴵ Cl (11)'"}}
     }},
    {"data": {"values": [{}]}, "mark": {"type": "text", "text": "(a)", "clip": false},
     "encoding": {
      "x": {"datum": 8961, "type": "quantitative", "axis": {"title": "ENERGY (eV)", "format": "d", "values": [8970,8971,8972,8973,8974,8975,8976,8977,8978,8979,8980,8981,8982,8983,8984,8985,8986,8987,8988,8989,8990,8991,8992,8993,8994,8995,8996,8997,8998,8999,9000,9001,9002,9003,9004,9005,9006,9007,9008,9009,9010], "labelExpr": "datum.value % 5 == 0 ? datum.label : ''"}},
      "y": {"datum": 1.3, "type": "quantitative", "axis": {"title": "NORMALIZED ABSORBANCE", "values": [0,0.05,0.1,0.15,0.2,0.25,0.3,0.35,0.4,0.45,0.5,0.55,0.6,0.65,0.7,0.75,0.8,0.85,0.9,0.95,1,1.05,1.1,1.15,1.2,1.25,1.3], "labelExpr": "round(datum.value*100) % 20 == 0 ? format(datum.value, '.1f') : ''"}}
     }}
   ]},
   {"data": {"name": "Ka"}, "mark": {"type": "line"},
    "encoding": {
     "x": {"field": "x", "type": "quantitative", "scale": {"domain": [8974.65, 8982.6], "range": [97, 196], "nice": false, "zero": false}, "axis": {"orient": "bottom", "offset": -47, "title": null, "format": "d", "values": [8975,8976,8977,8978,8979,8980,8981,8982], "labelExpr": "datum.value % 2 == 0 ? datum.label : ''", "domain": true, "domainColor": "#333", "labelPadding": 3, "labelFontSize": 8}},
     "y": {"field": "y", "type": "quantitative", "scale": {"domain": [0, 1], "range": [158, 58], "nice": false, "zero": false}, "axis": null},
     "color": {"field": "s", "type": "nominal"}
    }}
  ],
  "resolve": {"scale": {"x": "independent", "y": "independent"}}},
 {"width": 205, "height": 205,
  "layer": [
   {"data": {"name": "L"}, "transform": [{"filter": {"field": "s", "oneOf": ["6","9","10","11"]}}],
    "mark": {"type": "line", "clip": true},
    "encoding": {
     "x": {"field": "x", "type": "quantitative", "scale": {"domain": [924.8, 960.5], "nice": false, "zero": false}, "axis": {"title": "ENERGY (eV)", "format": "d", "values": [925,926,927,928,929,930,931,932,933,934,935,936,937,938,939,940,941,942,943,944,945,946,947,948,949,950,951,952,953,954,955,956,957,958,959,960], "labelExpr": "datum.value % 5 == 0 ? datum.label : ''"}},
     "y": {"field": "y", "type": "quantitative", "scale": {"domain": [-0.07, 2.79], "nice": false, "zero": false}, "axis": {"title": "NORMALIZED ABSORBANCE", "values": [0,0.1,0.2,0.3,0.4,0.5,0.6,0.7,0.8,0.9,1,1.1,1.2,1.3,1.4,1.5,1.6,1.7,1.8,1.9,2,2.1,2.2,2.3,2.4,2.5,2.6,2.7], "labelExpr": "round(datum.value*10) % 5 == 0 ? format(datum.value, '.1f') : ''"}},
     "color": {"field": "s", "type": "nominal", "scale": {"domain": ["6","9","10","11"], "range": ["#ee1111","#111111","#6a2ad0","#c8860d"]}, "legend": {"title": null, "orient": "top-right", "offset": 8, "labelExpr": "datum.label == '6' ? 'Cu₂(NArᶜᶠ³) (6)' : datum.label == '9' ? '[Cu₂(NArᶜᶠ³)]⁻ (9)' : datum.label == '10' ? 'Cuᴵ(NCMe) (10)' : 'Cuᴵᴵ Cl (11)'"}}
    }},
   {"data": {"values": [{}]}, "mark": {"type": "text", "text": "(c)", "clip": false},
    "encoding": {
     "x": {"datum": 916.6, "type": "quantitative", "axis": {"title": "ENERGY (eV)", "format": "d", "values": [925,926,927,928,929,930,931,932,933,934,935,936,937,938,939,940,941,942,943,944,945,946,947,948,949,950,951,952,953,954,955,956,957,958,959,960], "labelExpr": "datum.value % 5 == 0 ? datum.label : ''"}},
     "y": {"datum": 2.79, "type": "quantitative", "axis": {"title": "NORMALIZED ABSORBANCE", "values": [0,0.1,0.2,0.3,0.4,0.5,0.6,0.7,0.8,0.9,1,1.1,1.2,1.3,1.4,1.5,1.6,1.7,1.8,1.9,2,2.1,2.2,2.3,2.4,2.5,2.6,2.7], "labelExpr": "round(datum.value*10) % 5 == 0 ? format(datum.value, '.1f') : ''"}}
    }}
  ]},
 {"width": 204, "height": 205,
  "layer": [
   {"data": {"name": "N"}, "transform": [{"filter": {"field": "s", "oneOf": ["6","9","10","11"]}}],
    "mark": {"type": "line", "clip": true},
    "encoding": {
     "x": {"field": "x", "type": "quantitative", "scale": {"domain": [389.9, 410.1], "nice": false, "zero": false}, "axis": {"title": "ENERGY (eV)", "values": [390,390.5,391,391.5,392,392.5,393,393.5,394,394.5,395,395.5,396,396.5,397,397.5,398,398.5,399,399.5,400,400.5,401,401.5,402,402.5,403,403.5,404,404.5,405,405.5,406,406.5,407,407.5,408,408.5,409,409.5,410], "labelExpr": "datum.value % 5 == 0 ? format(datum.value, 'd') : ''"}},
     "y": {"field": "y", "type": "quantitative", "scale": {"domain": [-0.06, 1.25], "nice": false, "zero": false}, "axis": {"title": "NORMALIZED ABSORBANCE", "values": [0,0.05,0.1,0.15,0.2,0.25,0.3,0.35,0.4,0.45,0.5,0.55,0.6,0.65,0.7,0.75,0.8,0.85,0.9,0.95,1,1.05,1.1,1.15,1.2,1.25], "labelExpr": "round(datum.value*100) % 20 == 0 ? format(datum.value, '.1f') : ''"}},
     "color": {"field": "s", "type": "nominal", "scale": {"domain": ["6","9","10","11"], "range": ["#ee1111","#111111","#6a2ad0","#c8860d"]}, "legend": {"title": null, "orient": "top-left", "offset": 7, "labelFontSize": 8, "rowPadding": 4, "labelExpr": "datum.label == '6' ? 'Cu₂(NArᶜᶠ³) (6)' : datum.label == '9' ? '[Cu₂(NArᶜᶠ³)]⁻(9)' : datum.label == '10' ? 'Cuᴵ(NCMe) (10)' : 'Cuᴵᴵ Cl (11)'"}}
    }},
   {"data": {"values": [{}]}, "mark": {"type": "text", "text": "(e)", "clip": false},
    "encoding": {
     "x": {"datum": 385.3, "type": "quantitative", "axis": {"title": "ENERGY (eV)", "values": [390,390.5,391,391.5,392,392.5,393,393.5,394,394.5,395,395.5,396,396.5,397,397.5,398,398.5,399,399.5,400,400.5,401,401.5,402,402.5,403,403.5,404,404.5,405,405.5,406,406.5,407,407.5,408,408.5,409,409.5,410], "labelExpr": "datum.value % 5 == 0 ? format(datum.value, 'd') : ''"}},
     "y": {"datum": 1.25, "type": "quantitative", "axis": {"title": "NORMALIZED ABSORBANCE", "values": [0,0.05,0.1,0.15,0.2,0.25,0.3,0.35,0.4,0.45,0.5,0.55,0.6,0.65,0.7,0.75,0.8,0.85,0.9,0.95,1,1.05,1.1,1.15,1.2,1.25], "labelExpr": "round(datum.value*100) % 20 == 0 ? format(datum.value, '.1f') : ''"}}
    }}
  ]}
], "spacing": 2, "resolve": {"scale": {"color": "independent"}}},
{"hconcat": [
 {"width": 203, "height": 206,
  "layer": [
   {"layer": [
    {"data": {"name": "K"}, "transform": [{"filter": {"field": "s", "oneOf": ["5","8","6","9"]}}],
     "mark": {"type": "line", "clip": true},
     "encoding": {
      "x": {"field": "x", "type": "quantitative", "scale": {"domain": [8969.8, 9010.2], "nice": false, "zero": false}, "axis": {"title": "ENERGY (eV)", "format": "d", "values": [8970,8971,8972,8973,8974,8975,8976,8977,8978,8979,8980,8981,8982,8983,8984,8985,8986,8987,8988,8989,8990,8991,8992,8993,8994,8995,8996,8997,8998,8999,9000,9001,9002,9003,9004,9005,9006,9007,9008,9009,9010], "labelExpr": "datum.value % 5 == 0 ? datum.label : ''"}},
      "y": {"field": "y", "type": "quantitative", "scale": {"domain": [-0.03, 1.31], "nice": false, "zero": false}, "axis": {"title": "NORMALIZED ABSORBANCE", "values": [0,0.05,0.1,0.15,0.2,0.25,0.3,0.35,0.4,0.45,0.5,0.55,0.6,0.65,0.7,0.75,0.8,0.85,0.9,0.95,1,1.05,1.1,1.15,1.2,1.25,1.3], "labelExpr": "round(datum.value*100) % 20 == 0 ? format(datum.value, '.1f') : ''"}},
      "color": {"field": "s", "type": "nominal", "scale": {"domain": ["5","8","6","9"], "range": ["#2233cc","#229a22","#ee1111","#111111"]}, "legend": {"title": null, "orient": "top-left", "offset": 6, "rowPadding": 3.5, "labelExpr": "datum.label == '5' ? 'Cu₂(NArᴼᴹᵉ) (5)' : datum.label == '8' ? '[Cu₂(NArᴼᴹᵉ)]⁻ (8)' : datum.label == '6' ? 'Cu₂(NArᶜᶠ³) (6)' : '[Cu₂(NArᶜᶠ³)]⁻ (9)'"}}
     }},
    {"data": {"values": [{}]}, "mark": {"type": "text", "text": "(b)", "clip": false},
     "encoding": {
      "x": {"datum": 8961, "type": "quantitative", "axis": {"title": "ENERGY (eV)", "format": "d", "values": [8970,8971,8972,8973,8974,8975,8976,8977,8978,8979,8980,8981,8982,8983,8984,8985,8986,8987,8988,8989,8990,8991,8992,8993,8994,8995,8996,8997,8998,8999,9000,9001,9002,9003,9004,9005,9006,9007,9008,9009,9010], "labelExpr": "datum.value % 5 == 0 ? datum.label : ''"}},
      "y": {"datum": 1.31, "type": "quantitative", "axis": {"title": "NORMALIZED ABSORBANCE", "values": [0,0.05,0.1,0.15,0.2,0.25,0.3,0.35,0.4,0.45,0.5,0.55,0.6,0.65,0.7,0.75,0.8,0.85,0.9,0.95,1,1.05,1.1,1.15,1.2,1.25,1.3], "labelExpr": "round(datum.value*100) % 20 == 0 ? format(datum.value, '.1f') : ''"}}
     }}
   ]},
   {"data": {"name": "Kb"}, "mark": {"type": "line"},
    "encoding": {
     "x": {"field": "x", "type": "quantitative", "scale": {"domain": [8976, 8982.5], "range": [93, 201], "nice": false, "zero": false}, "axis": {"orient": "bottom", "offset": -50, "title": null, "format": "d", "values": [8976,8977,8978,8979,8980,8981,8982], "labelExpr": "datum.value % 2 == 0 ? datum.label : ''", "domain": true, "domainColor": "#333", "labelPadding": 3, "labelFontSize": 8}},
     "y": {"field": "y", "type": "quantitative", "scale": {"domain": [0, 1], "range": [156, 51], "nice": false, "zero": false}, "axis": null},
     "color": {"field": "s", "type": "nominal"}
    }}
  ],
  "resolve": {"scale": {"x": "independent", "y": "independent"}}},
 {"width": 205, "height": 206,
  "layer": [
   {"data": {"name": "L"}, "transform": [{"filter": {"field": "s", "oneOf": ["5","8","6","9"]}}],
    "mark": {"type": "line", "clip": true},
    "encoding": {
     "x": {"field": "x", "type": "quantitative", "scale": {"domain": [924.8, 960.5], "nice": false, "zero": false}, "axis": {"title": "ENERGY (eV)", "format": "d", "values": [925,926,927,928,929,930,931,932,933,934,935,936,937,938,939,940,941,942,943,944,945,946,947,948,949,950,951,952,953,954,955,956,957,958,959,960], "labelExpr": "datum.value % 5 == 0 ? datum.label : ''"}},
     "y": {"field": "y", "type": "quantitative", "scale": {"domain": [-0.03, 2.83], "nice": false, "zero": false}, "axis": {"title": "NORMALIZED ABSORBANCE", "values": [0,0.1,0.2,0.3,0.4,0.5,0.6,0.7,0.8,0.9,1,1.1,1.2,1.3,1.4,1.5,1.6,1.7,1.8,1.9,2,2.1,2.2,2.3,2.4,2.5,2.6,2.7,2.8], "labelExpr": "round(datum.value*10) % 5 == 0 ? format(datum.value, '.1f') : ''"}},
     "color": {"field": "s", "type": "nominal", "scale": {"domain": ["5","8","6","9"], "range": ["#2233cc","#229a22","#ee1111","#111111"]}, "legend": {"title": null, "orient": "top-right", "offset": 8, "rowPadding": 3.5, "labelExpr": "datum.label == '5' ? 'Cu₂(NArᴼᴹᵉ) (5)' : datum.label == '8' ? '[Cu₂NArᴼᴹᵉ)]⁻ (8)' : datum.label == '6' ? 'Cu₂(NArᶜᶠ³) (6)' : '[Cu₂(NArᶜᶠ³)]⁻ (9)'"}}
    }},
   {"data": {"values": [{}]}, "mark": {"type": "text", "text": "(d)", "clip": false},
    "encoding": {
     "x": {"datum": 916.6, "type": "quantitative", "axis": {"title": "ENERGY (eV)", "format": "d", "values": [925,926,927,928,929,930,931,932,933,934,935,936,937,938,939,940,941,942,943,944,945,946,947,948,949,950,951,952,953,954,955,956,957,958,959,960], "labelExpr": "datum.value % 5 == 0 ? datum.label : ''"}},
     "y": {"datum": 2.83, "type": "quantitative", "axis": {"title": "NORMALIZED ABSORBANCE", "values": [0,0.1,0.2,0.3,0.4,0.5,0.6,0.7,0.8,0.9,1,1.1,1.2,1.3,1.4,1.5,1.6,1.7,1.8,1.9,2,2.1,2.2,2.3,2.4,2.5,2.6,2.7,2.8], "labelExpr": "round(datum.value*10) % 5 == 0 ? format(datum.value, '.1f') : ''"}}
    }}
  ]},
 {"width": 204, "height": 206,
  "layer": [
   {"layer": [
    {"data": {"name": "N"}, "transform": [{"filter": {"field": "s", "oneOf": ["5","8","6","9"]}}],
     "mark": {"type": "line", "clip": true},
     "encoding": {
      "x": {"field": "x", "type": "quantitative", "scale": {"domain": [389.9, 410.1], "nice": false, "zero": false}, "axis": {"title": "ENERGY (eV)", "values": [390,390.5,391,391.5,392,392.5,393,393.5,394,394.5,395,395.5,396,396.5,397,397.5,398,398.5,399,399.5,400,400.5,401,401.5,402,402.5,403,403.5,404,404.5,405,405.5,406,406.5,407,407.5,408,408.5,409,409.5,410], "labelExpr": "datum.value % 5 == 0 ? format(datum.value, 'd') : ''"}},
      "y": {"field": "y", "type": "quantitative", "scale": {"domain": [-0.03, 1.21], "nice": false, "zero": false}, "axis": {"title": "NORMALIZED ABSORBANCE", "values": [0,0.05,0.1,0.15,0.2,0.25,0.3,0.35,0.4,0.45,0.5,0.55,0.6,0.65,0.7,0.75,0.8,0.85,0.9,0.95,1,1.05,1.1,1.15,1.2], "labelExpr": "round(datum.value*100) % 20 == 0 ? format(datum.value, '.1f') : ''"}},
      "color": {"field": "s", "type": "nominal", "scale": {"domain": ["5","8","6","9"], "range": ["#2233cc","#229a22","#ee1111","#111111"]}, "legend": {"title": null, "orient": "top-left", "offset": 7, "labelFontSize": 8, "rowPadding": 3, "labelExpr": "datum.label == '5' ? 'Cu₂(NArᴼᴹᵉ) (5)' : datum.label == '8' ? '[Cu₂(NArᴼᴹᵉ)]⁻(8)' : datum.label == '6' ? 'Cu₂(NArᶜᶠ³) (6)' : '[Cu₂(NArᶜᶠ³)]⁻(9)'"}}
     }},
    {"data": {"values": [{}]}, "mark": {"type": "text", "text": "(f)", "clip": false},
     "encoding": {
      "x": {"datum": 385.3, "type": "quantitative", "axis": {"title": "ENERGY (eV)", "values": [390,390.5,391,391.5,392,392.5,393,393.5,394,394.5,395,395.5,396,396.5,397,397.5,398,398.5,399,399.5,400,400.5,401,401.5,402,402.5,403,403.5,404,404.5,405,405.5,406,406.5,407,407.5,408,408.5,409,409.5,410], "labelExpr": "datum.value % 5 == 0 ? format(datum.value, 'd') : ''"}},
      "y": {"datum": 1.21, "type": "quantitative", "axis": {"title": "NORMALIZED ABSORBANCE", "values": [0,0.05,0.1,0.15,0.2,0.25,0.3,0.35,0.4,0.45,0.5,0.55,0.6,0.65,0.7,0.75,0.8,0.85,0.9,0.95,1,1.05,1.1,1.15,1.2], "labelExpr": "round(datum.value*100) % 20 == 0 ? format(datum.value, '.1f') : ''"}}
     }}
   ]},
   {"data": {"name": "Nf"}, "mark": {"type": "line"},
    "encoding": {
     "x": {"field": "x", "type": "quantitative", "scale": {"domain": [394.05, 397.05], "range": [123, 193], "nice": false, "zero": false}, "axis": {"orient": "bottom", "offset": -33, "title": null, "values": [394.5,395,395.5,396,396.5,397], "labelExpr": "datum.value == 395 || datum.value == 397 ? format(datum.value, 'd') : ''", "domain": true, "domainColor": "#333", "labelPadding": 3, "labelFontSize": 8}},
     "y": {"field": "y", "type": "quantitative", "scale": {"domain": [0, 1], "range": [173, 73], "nice": false, "zero": false}, "axis": null},
     "color": {"field": "s", "type": "nominal"}
    }}
  ],
  "resolve": {"scale": {"x": "independent", "y": "independent"}}}
], "spacing": 2, "resolve": {"scale": {"color": "independent"}}}
]
}
